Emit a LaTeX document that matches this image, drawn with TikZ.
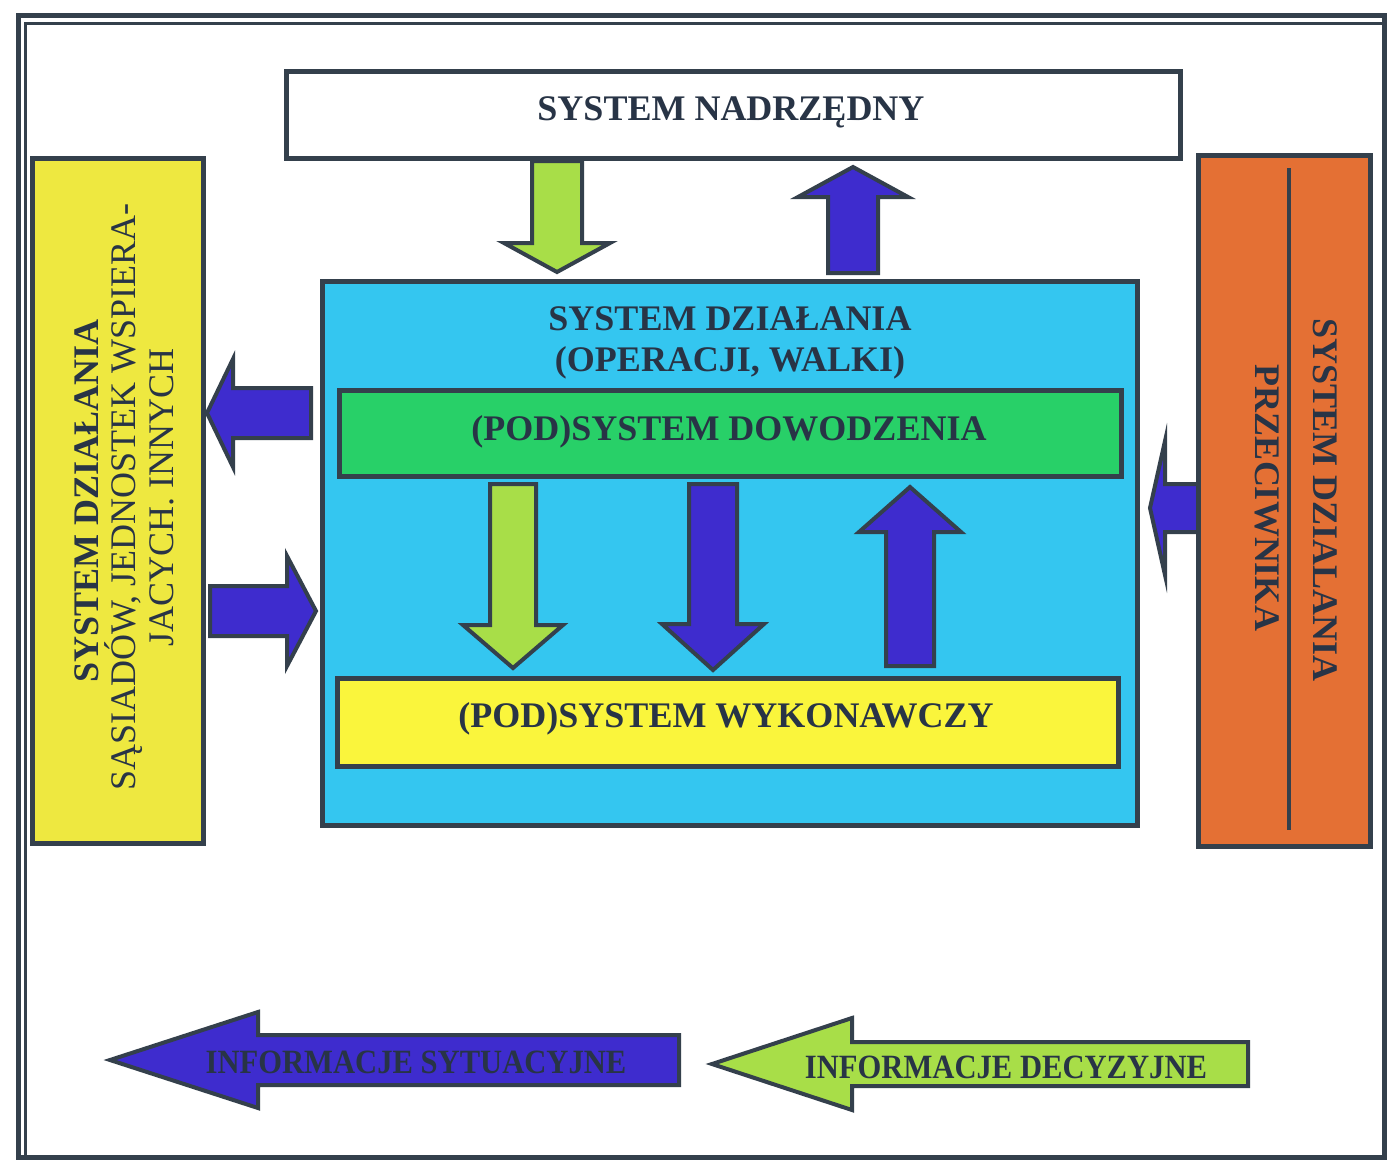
\documentclass[tikz,border=0pt]{standalone}
\usepackage{fontspec}
\setmainfont{Liberation Serif}
\usepackage{graphicx}

\definecolor{edge}{RGB}{52,64,76}
\definecolor{ink}{RGB}{40,52,70}
\definecolor{skyfill}{RGB}{52,198,240}
\definecolor{cmdfill}{RGB}{40,208,104}
\definecolor{execfill}{RGB}{250,245,60}
\definecolor{sidefill}{RGB}{238,232,64}
\definecolor{enemyfill}{RGB}{228,112,52}
\definecolor{infoblue}{RGB}{62,44,206}
\definecolor{infolime}{RGB}{168,222,72}

% vertical block arrow: colour, centre x, shaft half width, head half width,
% start y, head base y, tip y
\newcommand{\vblock}[7]{%
  \draw[blk,fill=#1] ({#2-#3},#5) -- ({#2+#3},#5) -- ({#2+#3},#6) -- ({#2+#4},#6)
    -- (#2,#7) -- ({#2-#4},#6) -- ({#2-#3},#6) -- cycle;}
% horizontal block arrow: colour, centre y, shaft half width, head half width,
% start x, head base x, tip x
\newcommand{\hblock}[7]{%
  \draw[blk,fill=#1] (#5,{#2-#3}) -- (#5,{#2+#3}) -- (#6,{#2+#3}) -- (#6,{#2+#4})
    -- (#7,#2) -- (#6,{#2-#4}) -- (#6,{#2-#3}) -- cycle;}

\begin{document}
\begin{tikzpicture}[x=1pt,y=-1pt,
  box/.style={draw=edge,line width=5pt,inner sep=0pt,outer sep=0pt},
  blk/.style={draw=edge,line width=4pt,line join=miter},
  lbl/.style={font=\bfseries\fontsize{36}{40}\selectfont,text=ink,inner sep=0pt},
  lblreg/.style={font=\fontsize{36}{40}\selectfont,text=ink,inner sep=0pt},
  infotext/.style={font=\bfseries\fontsize{34}{38}\selectfont,text=ink,inner sep=0pt}]

\useasboundingbox (0,0) rectangle (1389,1163);
\fill[white] (0,0) rectangle (1389,1163);

% page frame
\draw[edge,line width=5pt] (18,15) rectangle (1384,1157);
\draw[edge,line width=2.5pt] (25.5,23.5) rectangle (1384,1157);

% boxes
\node[box,fill=white,minimum width=894pt,minimum height=87pt] (nadrz) at (733.5,115) {};
\node[box,fill=skyfill,minimum width=815pt,minimum height=544pt] (dzial) at (730,553.5) {};
\node[box,fill=cmdfill,minimum width=782pt,minimum height=86pt] (dowodz) at (730.5,433.5) {};
\node[box,fill=execfill,minimum width=781pt,minimum height=88pt] (wykon) at (728,722.5) {};
\node[box,fill=sidefill,minimum width=171pt,minimum height=685pt] (sasiad) at (118,501) {};
\node[box,fill=enemyfill,minimum width=172pt,minimum height=691pt] (przeciw) at (1284.5,501) {};
\coordinate (divtop) at (1289,168);
\coordinate (divbot) at (1289,830);
\draw[edge,line width=4pt] (divtop) -- (divbot);

% arrows between the systems
\vblock{infolime}{557}{25}{53}{161}{243}{272}
\vblock{infoblue}{853}{25}{55}{273}{197}{167}
\vblock{infolime}{513}{23}{50}{484}{625}{668}
\vblock{infoblue}{713}{24}{51}{484}{624}{670}
\vblock{infoblue}{910}{24}{51}{666}{532}{487}
\hblock{infoblue}{413}{25}{54}{311}{233}{207}
\hblock{infoblue}{611}{25}{55}{210}{287}{316}
\hblock{infoblue}{508}{24}{67}{1198}{1165}{1150}

% legend arrows
\hblock{infoblue}{1060}{25}{48}{679}{258}{110}
\hblock{infolime}{1064}{22}{46}{1248}{852}{712}

% labels
\node[lbl,anchor=base] (tnadrz) at (731,120) {SYSTEM NADRZĘDNY};
\node[lbl,anchor=base] (tdzial) at (730,330) {SYSTEM DZIAŁANIA};
\node[lbl,anchor=base] (tdzial2) at (730,371) {(OPERACJI, WALKI)};
\node[lbl,anchor=base] (tdowodz) at (729,440) {(POD)SYSTEM DOWODZENIA};
\node[lbl,anchor=base] (twykon) at (726,727) {(POD)SYSTEM WYKONAWCZY};

\node[lbl,anchor=base,rotate=90] (tsas1) at (98,501) {SYSTEM DZIAŁANIA};
\node[lblreg,anchor=base,rotate=90] (tsas2) at (135,497) {SĄSIADÓW, JEDNOSTEK WSPIERA-};
\node[lblreg,anchor=base,rotate=90] (tsas3) at (173,497) {JACYCH. INNYCH};

\node[lbl,anchor=base,rotate=-90] (tprz1) at (1313,500) {SYSTEM DZIALANIA};
\node[lbl,anchor=base,rotate=-90] (tprz2) at (1255,498) {PRZECIWNIKA};

\node[infotext,anchor=base] (tsyt) at (416,1073) {\scalebox{0.9}[1]{INFORMACJE SYTUACYJNE}};
\node[infotext,anchor=base] (tdec) at (1006,1078) {\scalebox{0.9}[1]{INFORMACJE DECYZYJNE}};
\end{tikzpicture}
\end{document}
